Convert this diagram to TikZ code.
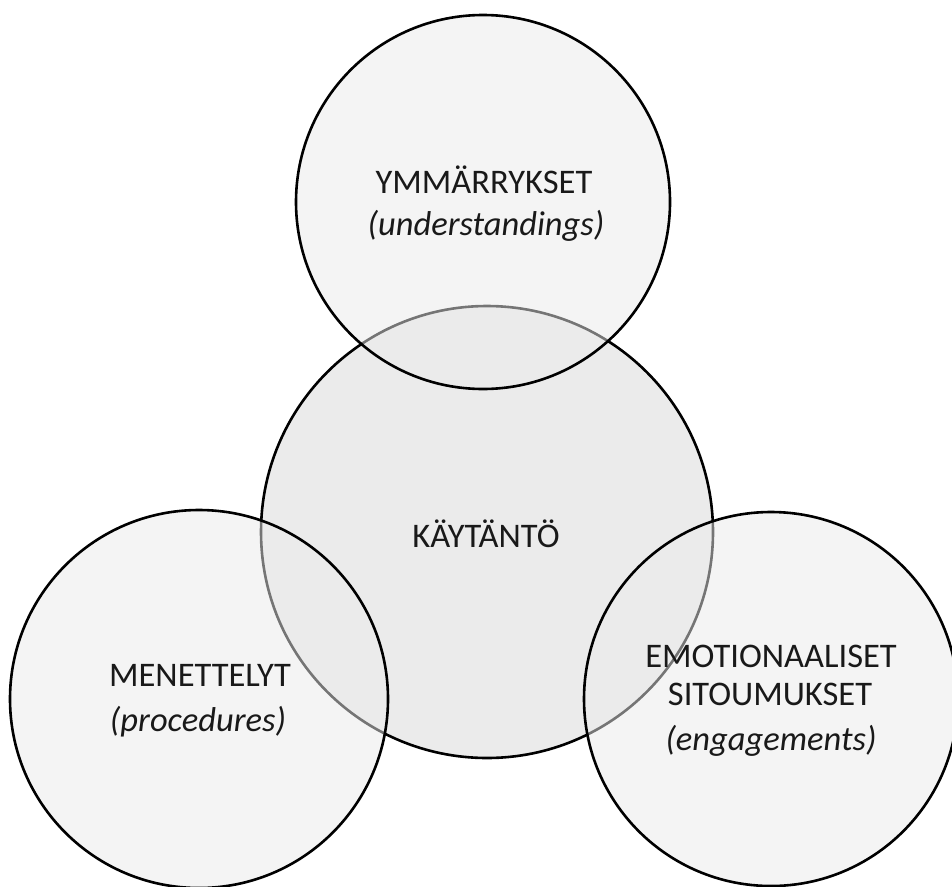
\documentclass[tikz,border=0pt]{standalone}
\usepackage{fontspec}
\setmainfont{Carlito}
\begin{document}
\begin{tikzpicture}[x=1pt,y=-1pt,
	ring/.style={line width=2.6pt,fill=black!8},
	word/.style={anchor=base,inner sep=0pt,text=black!90,font=\fontsize{34.5}{40}\selectfont},
	gloss/.style={word,font=\fontsize{34.5}{40}\selectfont\itshape}]
		\def\topcircle{(483,202) circle (187)}
		\def\middlecircle{(487,532) circle (226)}
		\def\leftcircle{(199,699) circle (189)}
		\def\rightcircle{(771,699) circle (187)}
		\useasboundingbox (0,0) rectangle (952,886);
		\fill[white] (0,0) rectangle (952,886);
		\draw[ring] \middlecircle;
		\draw[ring,fill opacity=0.5] \topcircle;
		\draw[ring,fill opacity=0.5] \leftcircle;
		\draw[ring,fill opacity=0.5] \rightcircle;
		\node[word] (ymm) at (484,193) {YMMÄRRYKSET};
		\node[gloss] (und) at (486,235) {(understandings)};
		\node[word] (kay) at (486,547) {KÄYTÄNTÖ};
		\node[word] (men) at (200,686) {MENETTELYT};
		\node[gloss] (pro) at (198,731) {(procedures)};
		\node[word] (emo) at (771,667) {EMOTIONAALISET};
		\node[word] (sit) at (770,705) {SITOUMUKSET};
		\node[gloss] (eng) at (771,750) {(engagements)};
	\end{tikzpicture}
\end{document}
